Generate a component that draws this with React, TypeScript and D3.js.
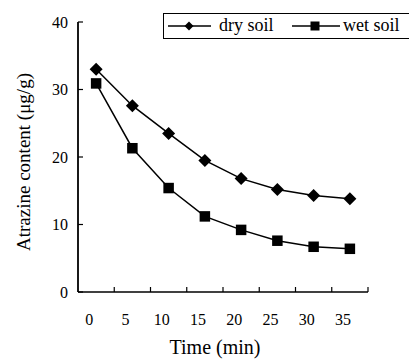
import React from 'react';
import * as d3 from 'd3';

const times = ['0', '5', '10', '15', '20', '25', '30', '35'];
const drySoil = [33.0, 27.6, 23.5, 19.5, 16.8, 15.2, 14.3, 13.8];
const wetSoil = [30.9, 21.3, 15.4, 11.2, 9.2, 7.6, 6.7, 6.4];
const yTicks = [0, 10, 20, 30, 40];

const FONT = "'Liberation Serif', 'DejaVu Serif', serif";

const Diamond = ({ x, y, r }: { x: number; y: number; r: number }) => (
    <path d={`M${x},${y - r}L${x + r},${y}L${x},${y + r}L${x - r},${y}Z`} fill="black" />
);

const Square = ({ x, y, s }: { x: number; y: number; s: number }) => (
    <rect x={x - s / 2} y={y - s / 2} width={s} height={s} fill="black" />
);

const App = () => {
    const width = 409;
    const height = 359;
    const margin = { top: 22, right: 41, bottom: 67, left: 78 };
    const innerW = width - margin.left - margin.right;
    const innerH = height - margin.top - margin.bottom;

    const xScale = d3.scaleBand().domain(times).range([0, innerW]);
    const yScale = d3.scaleLinear().domain([0, 40]).range([innerH, 0]);
    const cx = (t: string) => (xScale(t) ?? 0) + xScale.bandwidth() / 2;

    const line = d3
        .line<number>()
        .x((_, i) => cx(times[i]))
        .y((d) => yScale(d));

    const txt = (size: number) => ({ fontFamily: FONT, fontSize: size });

    return (
        <svg width={width} height={height} style={{ position: 'absolute', left: 0, top: 0 }}>
            <rect width={width} height={height} fill="white" />
            <g transform={`translate(${margin.left}, ${margin.top})`}>
                {/* axes */}
                <line x1={0} x2={0} y1={0} y2={innerH} stroke="black" strokeWidth={1.8} />
                <line x1={0} x2={innerW} y1={innerH} y2={innerH} stroke="black" strokeWidth={1.5} />

                {yTicks.map((t) => (
                    <g key={t} transform={`translate(0, ${yScale(t)})`}>
                        <line x2={5} stroke="black" strokeWidth={1.2} />
                        <text x={-10} dy="0.35em" textAnchor="end" style={txt(16)}>
                            {t}
                        </text>
                    </g>
                ))}

                {[...times.map((t) => xScale(t) ?? 0), innerW].slice(1).map((x, i) => (
                    <line key={i} x1={x} x2={x} y1={innerH} y2={innerH - 5} stroke="black" strokeWidth={1.2} />
                ))}
                {times.map((t) => (
                    <text key={t} x={cx(t) - 7} y={innerH + 33} textAnchor="middle" style={txt(16)}>
                        {t}
                    </text>
                ))}

                {/* series */}
                <path d={line(drySoil) ?? ''} fill="none" stroke="black" strokeWidth={1.5} />
                <path d={line(wetSoil) ?? ''} fill="none" stroke="black" strokeWidth={1.5} />
                {drySoil.map((d, i) => (
                    <Diamond key={i} x={cx(times[i])} y={yScale(d)} r={6.5} />
                ))}
                {wetSoil.map((d, i) => (
                    <Square key={i} x={cx(times[i])} y={yScale(d)} s={10.5} />
                ))}

                {/* axis titles */}
                <text x={innerW / 2 - 8} y={innerH + 62} textAnchor="middle" style={txt(20)}>
                    Time (min)
                </text>
                <text
                    transform={`translate(${-48}, ${innerH / 2 + 5}) rotate(-90)`}
                    textAnchor="middle"
                    style={txt(19)}
                >
                    Atrazine content (μg/g)
                </text>
            </g>

            {/* legend */}
            <g>
                <rect x={163.5} y={13.5} width={260} height={25} fill="white" stroke="black" strokeWidth={1} />
                <line x1={168} x2={211} y1={26} y2={26} stroke="black" strokeWidth={1.5} />
                <Diamond x={189} y={26} r={4.5} />
                <text x={219} y={31} style={txt(18)}>dry soil</text>
                <line x1={292} x2={340} y1={26} y2={26} stroke="black" strokeWidth={1.5} />
                <Square x={315} y={26} s={9} />
                <text x={343} y={31} style={txt(18)}>wet soil</text>
            </g>
        </svg>
    );
};

export default App;
